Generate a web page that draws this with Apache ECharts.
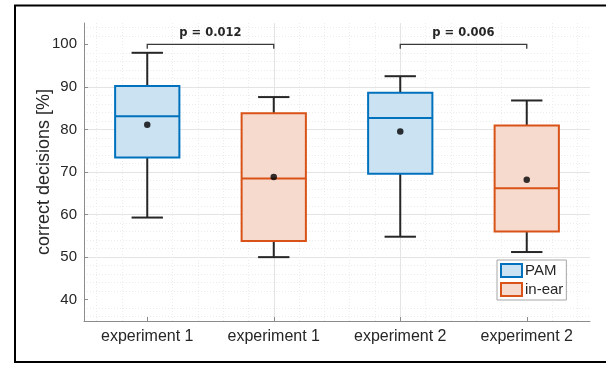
<!DOCTYPE html>
<html>
<head>
<meta charset="utf-8">
<script src="https://cdn.jsdelivr.net/npm/echarts@6/dist/echarts.min.js"></script>
<style>
  html, body { margin: 0; padding: 0; background: #fff; }
  #chart { width: 606px; height: 365px; }
</style>
</head>
<body>
<div id="chart"></div>
<script>
// Category labels along the x axis (position 1..4)
const categories = ['experiment 1', 'experiment 1', 'experiment 2', 'experiment 2'];

// PAM condition: box statistics per experiment
const pamPos      = [1, 3];
const pamLow      = [59.3, 54.8];
const pamQ1       = [73.4, 69.6];
const pamMedian   = [83.1, 82.7];
const pamQ3       = [90.2, 88.6];
const pamHigh     = [98.0, 92.5];
const pamMean     = [81.1, 79.5];

// in-ear condition: box statistics per experiment
const earPos      = [2, 4];
const earLow      = [50.0, 51.2];
const earQ1       = [53.8, 56.0];
const earMedian   = [68.5, 66.2];
const earQ3       = [83.8, 80.9];
const earHigh     = [87.6, 86.8];
const earMean     = [68.8, 68.2];

// Significance brackets between paired boxes
const bracketFrom = [1, 3];
const bracketTo   = [2, 4];
const bracketY    = [100, 100];
const bracketText = ['p = 0.012', 'p = 0.006'];

const yTicks = [40, 50, 60, 70, 80, 90, 100];

function boxRows(pos, lo, q1, med, q3, hi) {
  return pos.map((p, i) => [p, lo[i], q1[i], med[i], q3[i], hi[i]]);
}

function makeBoxRenderer(edge, fill) {
  return function (params, api) {
    const x = api.value(0);
    const pLo = api.coord([x, api.value(1)]);
    const pQ1 = api.coord([x, api.value(2)]);
    const pMed = api.coord([x, api.value(3)]);
    const pQ3 = api.coord([x, api.value(4)]);
    const pHi = api.coord([x, api.value(5)]);
    const band = api.size([1, 0])[0];
    const halfBox = band * 0.254;
    const halfCap = band * 0.124;
    const cx = pMed[0];
    const whisk = { stroke: '#262626', lineWidth: 2 };
    return {
      type: 'group',
      children: [
        { type: 'line', shape: { x1: cx, y1: pQ3[1], x2: cx, y2: pHi[1] }, style: whisk },
        { type: 'line', shape: { x1: cx, y1: pQ1[1], x2: cx, y2: pLo[1] }, style: whisk },
        { type: 'line', shape: { x1: cx - halfCap, y1: pHi[1], x2: cx + halfCap, y2: pHi[1] }, style: whisk },
        { type: 'line', shape: { x1: cx - halfCap, y1: pLo[1], x2: cx + halfCap, y2: pLo[1] }, style: whisk },
        { type: 'rect', shape: { x: cx - halfBox, y: pQ3[1], width: halfBox * 2, height: pQ1[1] - pQ3[1] },
          style: { fill: fill, stroke: edge, lineWidth: 2 } },
        { type: 'line', shape: { x1: cx - halfBox, y1: pMed[1], x2: cx + halfBox, y2: pMed[1] },
          style: { stroke: edge, lineWidth: 2 } }
      ]
    };
  };
}

const PAM_EDGE = '#0072BD', PAM_FILL = '#cbe2f2';
const EAR_EDGE = '#D95319', EAR_FILL = '#f6dacd';

const bracketRows = bracketFrom.map((f, i) => [f, bracketTo[i], bracketY[i], i]);

const chart = echarts.init(document.getElementById('chart'));
chart.setOption({
  animation: false,
  backgroundColor: '#fff',
  textStyle: { fontFamily: 'Liberation Sans, Arial, sans-serif' },
  grid: { left: 84, right: 16, top: 23, bottom: 44, containLabel: false },
  xAxis: {
    type: 'value',
    min: 0.5,
    max: 4.5,
    splitNumber: 4,
    axisLine: { show: true, onZero: false, lineStyle: { color: '#8c8c8c', width: 1 } },
    axisTick: { show: true, inside: true, length: 4, customValues: [1, 2, 3, 4], lineStyle: { color: '#8c8c8c' } },
    axisLabel: {
      customValues: [1, 2, 3, 4],
      formatter: v => categories[Math.round(v) - 1] || '',
      color: '#262626', fontSize: 16, margin: 8
    },
    splitLine: { show: true, showMinLine: false, showMaxLine: false, lineStyle: { color: '#e4e4e4', width: 1 } },
    minorTick: { show: false, splitNumber: 5 },
    minorSplitLine: { show: true, lineStyle: { color: '#ececec', width: 1, type: [1, 2] } }
  },
  yAxis: {
    type: 'value',
    min: 35,
    max: 105,
    splitNumber: 7,
    name: 'correct decisions [%]',
    nameLocation: 'middle',
    nameGap: 31,
    nameMoveOverlap: false,
    nameTextStyle: { color: '#262626', fontSize: 18 },
    axisLine: { show: true, onZero: false, lineStyle: { color: '#8c8c8c', width: 1 } },
    axisTick: { show: true, inside: true, length: 4, customValues: yTicks, lineStyle: { color: '#8c8c8c' } },
    axisLabel: { customValues: yTicks, color: '#262626', fontSize: 15, margin: 7 },
    splitLine: { show: true, showMinLine: false, showMaxLine: false, lineStyle: { color: '#e4e4e4', width: 1 } },
    minorTick: { show: false, splitNumber: 5 },
    minorSplitLine: { show: true, lineStyle: { color: '#ececec', width: 1, type: [1, 2] } }
  },
  legend: {
    orient: 'vertical',
    left: 497,
    top: 260,
    padding: [3, 3, 3, 3],
    itemGap: 4,
    itemWidth: 21,
    itemHeight: 13,
    icon: 'rect',
    backgroundColor: '#fff',
    borderColor: '#a6a6a6',
    borderWidth: 1,
    borderRadius: 0,
    textStyle: { color: '#262626', fontSize: 15, padding: [0, 0, 0, -2] },
    data: [
      { name: 'PAM', itemStyle: { color: PAM_FILL, borderColor: PAM_EDGE, borderWidth: 2 } },
      { name: 'in-ear', itemStyle: { color: EAR_FILL, borderColor: EAR_EDGE, borderWidth: 2 } }
    ]
  },
  graphic: [
    { type: 'rect', silent: true, z: 100,
      shape: { x: 15, y: 5.5, width: 600, height: 356.5 },
      style: { fill: 'none', stroke: '#000', lineWidth: 2 } }
  ],
  series: [
    {
      name: 'PAM', type: 'custom',
      itemStyle: { color: PAM_FILL, borderColor: PAM_EDGE },
      encode: { x: 0, y: [1, 2, 3, 4, 5] },
      renderItem: makeBoxRenderer(PAM_EDGE, PAM_FILL),
      data: boxRows(pamPos, pamLow, pamQ1, pamMedian, pamQ3, pamHigh)
    },
    {
      name: 'in-ear', type: 'custom',
      itemStyle: { color: EAR_FILL, borderColor: EAR_EDGE },
      encode: { x: 0, y: [1, 2, 3, 4, 5] },
      renderItem: makeBoxRenderer(EAR_EDGE, EAR_FILL),
      data: boxRows(earPos, earLow, earQ1, earMedian, earQ3, earHigh)
    },
    {
      name: 'PAM mean', type: 'scatter', symbol: 'circle', symbolSize: 6.5, z: 5,
      itemStyle: { color: '#000' },
      data: pamPos.map((p, i) => [p, pamMean[i]])
    },
    {
      name: 'in-ear mean', type: 'scatter', symbol: 'circle', symbolSize: 6.5, z: 5,
      itemStyle: { color: '#000' },
      data: earPos.map((p, i) => [p, earMean[i]])
    },
    {
      name: 'brackets', type: 'custom', z: 6,
      encode: { x: [0, 1], y: 2 },
      renderItem: function (params, api) {
        const a = api.coord([api.value(0), api.value(2)]);
        const b = api.coord([api.value(1), api.value(2)]);
        const drop = 4.5;
        const label = bracketText[api.value(3)];
        return {
          type: 'group',
          children: [
            { type: 'polyline',
              shape: { points: [[a[0], a[1] + drop], [a[0], a[1]], [b[0], b[1]], [b[0], b[1] + drop]] },
              style: { fill: 'none', stroke: '#3a3a3a', lineWidth: 1.3 } },
            { type: 'text',
              style: { x: (a[0] + b[0]) / 2, y: a[1] - 11, text: label, align: 'center', verticalAlign: 'middle',
                       font: 'bold 11.5px "DejaVu Sans"', fill: '#262626' } }
          ]
        };
      },
      data: bracketRows
    }
  ]
});
</script>
</body>
</html>
